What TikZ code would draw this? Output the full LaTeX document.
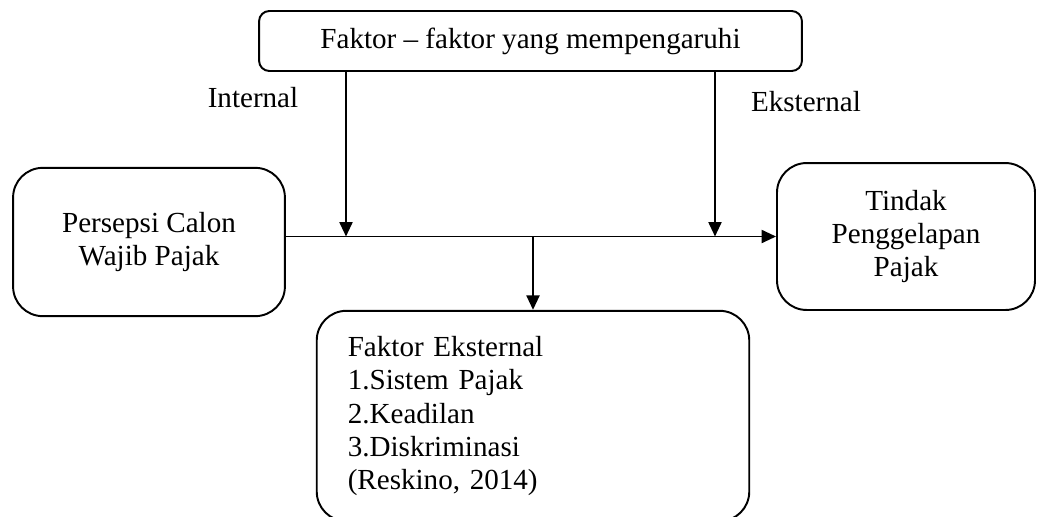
\documentclass[tikz,border=0pt]{standalone}
\usepackage{fontspec}
\setmainfont{Liberation Serif}
\usetikzlibrary{arrows.meta, calc}
\tikzset{kotak/.style = {draw, line width=0.8pt, rounded corners=0.43cm, inner sep=0pt, align=center}}
\tikzset{panah/.style = {line width=0.8pt, -{Triangle[length=0.21cm, width=0.19cm]}}}

\begin{document}
\begin{tikzpicture}[x=0.0145cm, y=-0.0145cm, font=\fontsize{12}{13.8}\selectfont]
\clip (0,0) rectangle (1037,516);
\node[kotak, rounded corners=0.15cm, minimum width=7.87cm, minimum height=0.87cm] (faktor) at (530.5,41) {Faktor -- faktor yang mempengaruhi};
\node[kotak, minimum width=3.94cm, minimum height=2.15cm] (persepsi) at (149,242) {Persepsi Calon\\Wajib Pajak};
\node[kotak, minimum width=3.74cm, minimum height=2.13cm] (tindak) at (906,236.5) {Tindak\\Penggelapan\\Pajak};
\node[kotak, align=left, text width=5.37cm, inner xsep=0.45cm, minimum height=3.05cm] (eksternal) at (533,416) {Faktor Eksternal\\1.Sistem Pajak\\2.Keadilan\\3.Diskriminasi\\(Reskino, 2014)};
\node (internal) at (253,98) {Internal};
\node (ekst) at (806,102) {Eksternal};
\coordinate (ti) at (346,0);
\coordinate (te) at (715,0);
\draw[panah] (persepsi.east |- tindak.west) -- (tindak.west);
\draw[panah] (faktor.south -| ti) -- (ti |- tindak.west);
\draw[panah] (faktor.south -| te) -- (te |- tindak.west);
\draw[panah] (eksternal.north |- tindak.west) -- (eksternal.north);
\end{tikzpicture}
\end{document}
